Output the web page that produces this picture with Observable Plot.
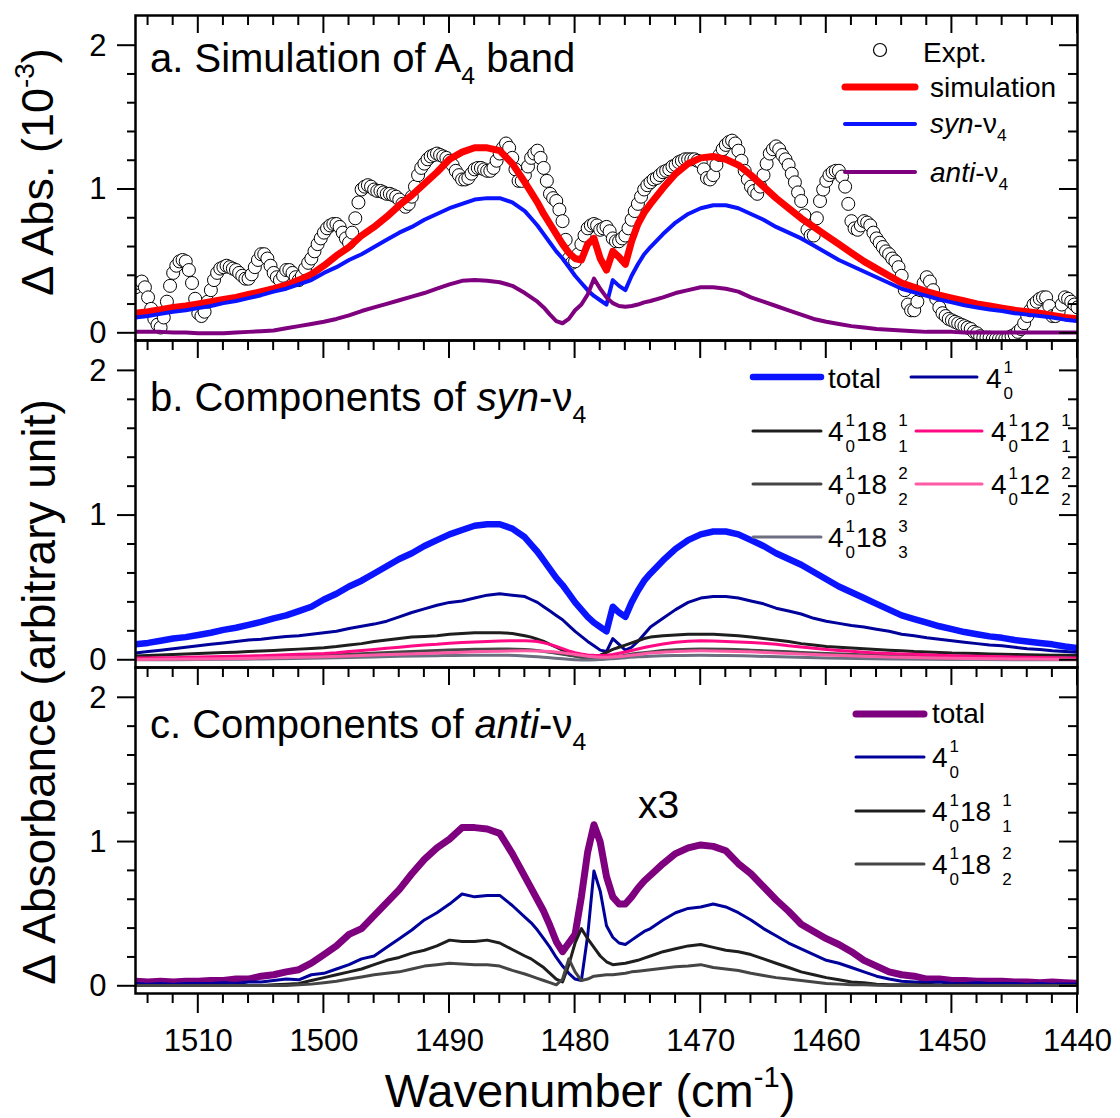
<!DOCTYPE html>
<html><head><meta charset="utf-8">
<script src="https://cdn.jsdelivr.net/npm/d3@7"></script>
<script src="https://cdn.jsdelivr.net/npm/@observablehq/plot@0.6"></script>
<style>
body{margin:0;background:#fff;}
#wrap{position:relative;width:1120px;height:1118px;overflow:hidden;background:#fff;}
.pnl{position:absolute;left:0;}
#ov{position:absolute;left:0;top:0;}
</style></head><body>
<div id="wrap"><div id="pa" class="pnl" style="top:0"></div><div id="pb" class="pnl" style="top:340px"></div><div id="pc" class="pnl" style="top:667px"></div><svg id="ov" width="1120" height="1118"></svg></div>
<script>
// ---------- data ----------
const exptWn = [
1515,1514.75,1514.5,1514.25,1514,1513.75,1513.5,1513.25,1513,1512.75,1512.5,1512.25,1512,1511.75,1511.5,1511.25,1511,1510.75,1510.5,1510.25,
1510,1509.75,1509.5,1509.25,1509,1508.75,1508.5,1508.25,1508,1507.75,1507.5,1507.25,1507,1506.75,1506.5,1506.25,1506,1505.75,1505.5,1505.25,
1505,1504.75,1504.5,1504.25,1504,1503.75,1503.5,1503.25,1503,1502.75,1502.5,1502.25,1502,1501.75,1501.5,1501.25,1501,1500.75,1500.5,1500.25,
1500,1499.75,1499.5,1499.25,1499,1498.75,1498.5,1498.25,1498,1497.75,1497.5,1497.25,1497,1496.75,1496.5,1496.25,1496,1495.75,1495.5,1495.25,
1495,1494.75,1494.5,1494.25,1494,1493.75,1493.5,1493.25,1493,1492.75,1492.5,1492.25,1492,1491.75,1491.5,1491.25,1491,1490.75,1490.5,1490.25,
1490,1489.75,1489.5,1489.25,1489,1488.75,1488.5,1488.25,1488,1487.75,1487.5,1487.25,1487,1486.75,1486.5,1486.25,1486,1485.75,1485.5,1485.25,
1485,1484.75,1484.5,1484.25,1484,1483.75,1483.5,1483.25,1483,1482.75,1482.5,1482.25,1482,1481.75,1481.5,1481.25,1481,1480.75,1480.5,1480.25,
1480,1479.75,1479.5,1479.25,1479,1478.75,1478.5,1478.25,1478,1477.75,1477.5,1477.25,1477,1476.75,1476.5,1476.25,1476,1475.75,1475.5,1475.25,
1475,1474.75,1474.5,1474.25,1474,1473.75,1473.5,1473.25,1473,1472.75,1472.5,1472.25,1472,1471.75,1471.5,1471.25,1471,1470.75,1470.5,1470.25,
1470,1469.75,1469.5,1469.25,1469,1468.75,1468.5,1468.25,1468,1467.75,1467.5,1467.25,1467,1466.75,1466.5,1466.25,1466,1465.75,1465.5,1465.25,
1465,1464.75,1464.5,1464.25,1464,1463.75,1463.5,1463.25,1463,1462.75,1462.5,1462.25,1462,1461.75,1461.5,1461.25,1461,1460.75,1460.5,1460.25,
1460,1459.75,1459.5,1459.25,1459,1458.75,1458.5,1458.25,1458,1457.75,1457.5,1457.25,1457,1456.75,1456.5,1456.25,1456,1455.75,1455.5,1455.25,
1455,1454.75,1454.5,1454.25,1454,1453.75,1453.5,1453.25,1453,1452.75,1452.5,1452.25,1452,1451.75,1451.5,1451.25,1451,1450.75,1450.5,1450.25,
1450,1449.75,1449.5,1449.25,1449,1448.75,1448.5,1448.25,1448,1447.75,1447.5,1447.25,1447,1446.75,1446.5,1446.25,1446,1445.75,1445.5,1445.25,
1445,1444.75,1444.5,1444.25,1444,1443.75,1443.5,1443.25,1443,1442.75,1442.5,1442.25,1442,1441.75,1441.5,1441.25,1441,1440.75,1440.5,1440.25,
1440];
const exptVals = [
0.32,0.35,0.36,0.32,0.25,0.17,0.10,0.06,0.04,0.11,0.22,0.33,0.42,0.47,0.50,0.51,0.50,0.44,0.35,0.24,
0.14,0.12,0.15,0.22,0.30,0.37,0.42,0.45,0.46,0.47,0.46,0.45,0.44,0.42,0.40,0.38,0.38,0.41,0.46,0.51,
0.55,0.55,0.52,0.47,0.42,0.39,0.37,0.40,0.44,0.44,0.42,0.39,0.37,0.40,0.45,0.49,0.52,0.57,0.62,0.66,
0.70,0.73,0.75,0.76,0.76,0.74,0.70,0.66,0.63,0.70,0.80,0.91,1.00,1.02,1.03,1.02,1.00,0.99,0.99,0.98,
0.97,0.97,0.96,0.95,0.93,0.90,0.88,0.90,0.95,1.02,1.10,1.15,1.18,1.21,1.23,1.24,1.25,1.24,1.23,1.22,
1.20,1.17,1.13,1.10,1.07,1.07,1.08,1.11,1.14,1.15,1.15,1.14,1.13,1.13,1.15,1.20,1.25,1.29,1.32,1.29,
1.22,1.14,1.06,1.06,1.10,1.16,1.22,1.25,1.27,1.22,1.15,1.06,0.97,0.94,0.92,0.86,0.78,0.65,0.52,0.49,
0.50,0.55,0.62,0.68,0.73,0.75,0.76,0.75,0.72,0.73,0.74,0.71,0.66,0.64,0.64,0.66,0.68,0.73,0.79,0.85,
0.90,0.95,1.00,1.03,1.05,1.07,1.08,1.10,1.12,1.13,1.14,1.16,1.17,1.19,1.20,1.21,1.21,1.21,1.21,1.20,
1.19,1.14,1.08,1.07,1.10,1.17,1.24,1.28,1.31,1.33,1.34,1.32,1.27,1.20,1.13,1.07,1.02,0.99,0.97,1.02,
1.10,1.18,1.25,1.28,1.30,1.28,1.24,1.21,1.17,1.11,1.05,0.98,0.92,0.82,0.72,0.68,0.68,0.80,0.92,1.00,
1.06,1.10,1.12,1.13,1.13,1.09,1.02,0.90,0.78,0.73,0.72,0.75,0.78,0.77,0.75,0.70,0.66,0.63,0.60,0.57,
0.55,0.52,0.50,0.46,0.40,0.30,0.20,0.16,0.16,0.22,0.30,0.35,0.39,0.36,0.30,0.24,0.18,0.14,0.12,0.10,
0.09,0.08,0.07,0.06,0.05,0.04,0.03,0.01,0.00,-0.02,-0.03,-0.03,-0.03,-0.04,-0.04,-0.04,-0.04,-0.04,-0.03,-0.02,
-0.01,0.01,0.03,0.07,0.12,0.16,0.20,0.22,0.24,0.25,0.25,0.19,0.12,0.12,0.15,0.20,0.25,0.24,0.22,0.20,
0.18];

const wn = [1515,1514,1513,1512,1511,1510,1509,1508,1507,1506,
1505,1504,1503,1502,1501,1500,1499,1498,1497,1496,
1495,1494,1493,1492,1491,1490,1489,1488,1487,1486,
1485,1484,1483.5,1483,1482.5,1482,1481.5,1481,1480.5,1480,
1479.5,1479,1478.5,1478,1477.5,1477,1476.5,1476,1475.5,1475,
1474.5,1474,1473,1472,1471,1470,1469,1468,1467,1466,
1465,1464,1463,1462,1461,1460,1459,1458,1457,1456,
1455,1454,1453,1452,1451,1450,1449,1448,1447,1446,
1445,1444,1443,1442,1441,1440];

const simulation = [0.14,0.15,0.165,0.18,0.19,0.205,0.22,0.235,0.25,0.27,
0.29,0.31,0.335,0.37,0.41,0.47,0.54,0.60,0.68,0.74,
0.81,0.89,0.96,1.04,1.12,1.21,1.26,1.29,1.29,1.27,
1.18,1.05,0.98,0.91,0.83,0.76,0.69,0.62,0.56,0.52,
0.51,0.62,0.66,0.52,0.44,0.57,0.53,0.48,0.64,0.76,
0.84,0.90,1.01,1.11,1.18,1.22,1.23,1.21,1.17,1.10,
1.02,0.94,0.87,0.80,0.74,0.68,0.62,0.56,0.50,0.45,
0.40,0.35,0.32,0.29,0.265,0.245,0.225,0.205,0.19,0.175,
0.16,0.15,0.14,0.125,0.11,0.10];

const synTotal = [0.11,0.12,0.135,0.15,0.16,0.175,0.19,0.21,0.225,0.245,
0.265,0.29,0.31,0.34,0.37,0.42,0.46,0.51,0.55,0.60,
0.65,0.70,0.74,0.79,0.83,0.87,0.90,0.93,0.94,0.94,
0.91,0.85,0.80,0.75,0.69,0.63,0.57,0.52,0.46,0.40,
0.35,0.30,0.26,0.23,0.20,0.37,0.33,0.30,0.40,0.48,
0.55,0.60,0.69,0.77,0.83,0.87,0.89,0.89,0.87,0.83,
0.79,0.74,0.70,0.66,0.61,0.56,0.51,0.47,0.43,0.39,
0.35,0.31,0.285,0.26,0.235,0.215,0.195,0.18,0.165,0.155,
0.14,0.13,0.12,0.11,0.095,0.085];

const antiA = [0.01,0.01,0.01,0.005,0.005,0.0,0.0,0.0,0.005,0.01,
0.015,0.02,0.035,0.05,0.065,0.08,0.10,0.125,0.155,0.18,
0.205,0.23,0.255,0.28,0.31,0.34,0.365,0.37,0.365,0.355,
0.33,0.28,0.25,0.22,0.18,0.13,0.085,0.07,0.10,0.16,
0.20,0.27,0.38,0.31,0.25,0.21,0.19,0.185,0.19,0.20,
0.215,0.225,0.25,0.28,0.30,0.32,0.32,0.31,0.29,0.25,
0.22,0.19,0.16,0.13,0.10,0.08,0.065,0.05,0.04,0.03,
0.025,0.02,0.015,0.01,0.01,0.01,0.005,0.005,0.005,0.005,
0.005,0.005,0.005,0.005,0.005,0.005];

const syn40 = [0.05,0.06,0.07,0.08,0.09,0.10,0.11,0.12,0.13,0.14,
0.145,0.155,0.165,0.17,0.18,0.19,0.20,0.22,0.235,0.25,
0.27,0.30,0.33,0.355,0.38,0.40,0.41,0.43,0.45,0.46,
0.45,0.44,0.42,0.40,0.37,0.34,0.31,0.28,0.24,0.20,
0.165,0.13,0.10,0.07,0.06,0.15,0.11,0.07,0.09,0.13,
0.18,0.23,0.29,0.35,0.40,0.43,0.44,0.44,0.43,0.41,
0.39,0.36,0.34,0.32,0.29,0.27,0.255,0.24,0.23,0.215,
0.20,0.18,0.17,0.155,0.145,0.135,0.125,0.115,0.105,0.10,
0.09,0.08,0.075,0.065,0.06,0.055];

const syn18a = [0.03,0.033,0.036,0.04,0.043,0.046,0.05,0.053,0.056,0.06,
0.064,0.068,0.072,0.077,0.082,0.087,0.095,0.105,0.115,0.13,
0.14,0.15,0.16,0.165,0.17,0.18,0.185,0.19,0.19,0.19,
0.185,0.17,0.16,0.145,0.13,0.11,0.09,0.07,0.05,0.035,
0.025,0.02,0.02,0.035,0.055,0.075,0.09,0.105,0.12,0.135,
0.15,0.16,0.17,0.175,0.18,0.18,0.18,0.175,0.17,0.16,
0.15,0.14,0.13,0.115,0.105,0.095,0.09,0.085,0.08,0.075,
0.07,0.065,0.06,0.057,0.054,0.05,0.048,0.046,0.044,0.042,
0.04,0.038,0.036,0.035,0.034,0.033];

const syn12a = [0.015,0.016,0.017,0.018,0.02,0.022,0.024,0.026,0.028,0.03,
0.032,0.035,0.038,0.041,0.044,0.047,0.052,0.06,0.067,0.075,
0.083,0.09,0.098,0.105,0.11,0.118,0.122,0.127,0.13,0.133,
0.135,0.135,0.133,0.13,0.12,0.11,0.095,0.08,0.065,0.052,
0.043,0.037,0.034,0.033,0.035,0.04,0.048,0.057,0.067,0.078,
0.088,0.097,0.112,0.125,0.132,0.135,0.133,0.13,0.126,0.122,
0.117,0.11,0.10,0.092,0.083,0.075,0.068,0.062,0.056,0.051,
0.047,0.044,0.041,0.038,0.035,0.032,0.03,0.028,0.026,0.024,
0.022,0.02,0.019,0.018,0.016,0.015];

const wnCoarse = [1515,1510,1505,1500,1497,1494,1491,1488,1486,1484,1482,1481,1480,1479,1478,1477,1476,1475,1474,1472,1470,1468,1466,1463,1460,1455,1450,1445,1440];
const syn18b = [0.01,0.015,0.022,0.035,0.045,0.057,0.068,0.076,0.078,0.074,0.055,0.042,0.028,0.012,0.008,0.02,0.035,0.048,0.058,0.072,0.078,0.076,0.07,0.058,0.046,0.032,0.023,0.017,0.012];
const syn12b = [0.005,0.009,0.015,0.025,0.033,0.042,0.05,0.058,0.063,0.065,0.06,0.052,0.04,0.028,0.02,0.022,0.03,0.04,0.05,0.06,0.065,0.063,0.058,0.047,0.036,0.022,0.014,0.009,0.006];
const syn18c = [0.003,0.005,0.009,0.015,0.021,0.027,0.032,0.035,0.035,0.03,0.017,0.01,0.004,0.002,0.005,0.011,0.018,0.024,0.028,0.033,0.035,0.033,0.029,0.022,0.016,0.009,0.006,0.004,0.003];

const antiTotal = [0.035,0.03,0.035,0.03,0.035,0.035,0.04,0.04,0.05,0.05,
0.07,0.08,0.10,0.115,0.16,0.22,0.28,0.36,0.40,0.49,
0.58,0.67,0.78,0.88,0.96,1.02,1.10,1.10,1.09,1.06,
0.92,0.76,0.68,0.60,0.52,0.42,0.31,0.24,0.30,0.36,
0.62,0.93,1.12,1.00,0.76,0.62,0.57,0.57,0.62,0.68,
0.73,0.77,0.85,0.92,0.96,0.98,0.97,0.94,0.85,0.78,
0.69,0.60,0.52,0.43,0.38,0.33,0.29,0.24,0.18,0.14,
0.10,0.08,0.07,0.05,0.05,0.04,0.04,0.035,0.035,0.035,
0.03,0.03,0.025,0.03,0.025,0.02];

const anti40 = [0.02,0.015,0.02,0.015,0.02,0.02,0.02,0.025,0.02,0.03,
0.03,0.04,0.05,0.045,0.08,0.09,0.12,0.15,0.19,0.21,
0.27,0.33,0.39,0.46,0.51,0.57,0.64,0.62,0.63,0.63,
0.56,0.48,0.44,0.39,0.33,0.27,0.20,0.14,0.09,0.05,
0.04,0.35,0.80,0.66,0.42,0.34,0.30,0.29,0.32,0.35,
0.38,0.40,0.46,0.51,0.54,0.55,0.57,0.55,0.51,0.46,
0.40,0.35,0.30,0.26,0.22,0.18,0.16,0.13,0.10,0.07,
0.05,0.035,0.03,0.025,0.03,0.02,0.02,0.025,0.02,0.02,
0.02,0.015,0.02,0.015,0.015,0.015];

const anti18a = [0.005,0.005,0.005,0.005,0.005,0.005,0.005,0.005,0.005,0.005,
0.005,0.01,0.015,0.02,0.04,0.06,0.08,0.10,0.12,0.15,
0.18,0.20,0.23,0.25,0.28,0.32,0.31,0.31,0.32,0.30,
0.255,0.21,0.19,0.16,0.13,0.09,0.05,0.03,0.15,0.30,
0.40,0.33,0.27,0.21,0.17,0.15,0.155,0.16,0.17,0.18,
0.195,0.21,0.24,0.26,0.28,0.29,0.27,0.25,0.24,0.22,
0.19,0.16,0.13,0.10,0.08,0.06,0.045,0.03,0.025,0.015,
0.01,0.01,0.01,0.01,0.008,0.008,0.008,0.006,0.006,0.006,
0.005,0.005,0.005,0.005,0.005,0.005];

const anti18b = [0.005,0.005,0.005,0.005,0.005,0.005,0.005,0.005,0.005,0.005,
0.005,0.005,0.005,0.01,0.015,0.025,0.035,0.05,0.065,0.08,
0.09,0.10,0.12,0.14,0.15,0.16,0.155,0.15,0.15,0.14,
0.11,0.085,0.07,0.055,0.04,0.025,0.01,0.05,0.19,0.10,
0.04,0.05,0.07,0.075,0.08,0.08,0.085,0.09,0.10,0.105,
0.11,0.115,0.125,0.135,0.14,0.15,0.13,0.12,0.11,0.09,
0.075,0.06,0.05,0.04,0.03,0.02,0.015,0.01,0.01,0.008,
0.006,0.006,0.006,0.006,0.006,0.006,0.006,0.006,0.006,0.006,
0.005,0.005,0.005,0.005,0.005,0.005];

const xMajor = [1510,1500,1490,1480,1470,1460,1450,1440];
const xMinor = [1514,1512,1508,1506,1504,1502,1498,1496,1494,1492,1488,1486,1484,1482,1478,1476,1474,1472,1468,1466,1464,1462,1458,1456,1454,1452,1448,1446,1444,1442];
const yMajor = [0,1,2];
const yMinor = [0.2,0.4,0.6,0.8,1.2,1.4,1.6,1.8];

// ---------- helpers ----------
const mk = (w, vals) => w.map((x, i) => ({w: x, v: vals[i]}));
const ML = 135, MR = 43, W = 1120 - ML - MR;
const X0 = 1515, X1 = 1440, Y0 = -0.05, Y1 = 2.21;
const FF = "'Liberation Sans', Arial, sans-serif";

function panel({top, h, bottom, layers, xLabels}) {
  const marks = [
    ...layers,
    Plot.frame({stroke: "black", strokeWidth: 2.5}),
    Plot.axisY(yMajor, {tickSize: 0, tickPadding: 29, label: null, tickFormat: d => String(d)})
  ];
  if (xLabels) {
    marks.push(Plot.axisX(xMajor, {tickSize: 0, tickPadding: 35, label: null, tickFormat: d => String(d)}));
  }
  return Plot.plot({
    width: 1120, height: top + h + bottom,
    marginLeft: ML, marginRight: MR, marginTop: top, marginBottom: bottom,
    x: {domain: [X0, X1], axis: xLabels ? undefined : null},
    y: {domain: [Y0, Y1]},
    style: {background: "transparent", overflow: "visible", fontFamily: FF, fontSize: "31px", color: "black"},
    marks
  });
}

const line = (w, vals, stroke, sw, curve) => Plot.line(mk(w, vals), {x: "w", y: "v", stroke, strokeWidth: sw, clip: true, curve: curve || "linear"});

const C = {red: "#ff0000", blue: "#0a14ff", purple: "#7f007f", navy: "#00009a", black: "#1e1e1e", dgray: "#454545", lgray: "#6c6f80", pink: "#ff0a84", lpink: "#ff5aa5"};

document.getElementById("pa").append(panel({top: 15, h: 325, bottom: 0, layers: [
  Plot.dot(mk(exptWn, exptVals), {x: "w", y: "v", r: 6.5, fill: "white", stroke: "black", strokeWidth: 1, clip: true}),
  line(wn, simulation, C.red, 7),
  line(wn, synTotal, C.blue, 4),
  line(wn, antiA, C.purple, 4)
]}));

document.getElementById("pb").append(panel({top: 0, h: 327, bottom: 0, layers: [
  line(wn, synTotal, C.blue, 6.5),
  line(wn, syn40, C.navy, 3),
  line(wn, syn18a, C.black, 3),
  line(wnCoarse, syn18b, C.dgray, 3, "monotone-x"),
  line(wnCoarse, syn18c, C.lgray, 3, "monotone-x"),
  line(wn, syn12a, C.pink, 3),
  line(wnCoarse, syn12b, C.lpink, 3, "monotone-x")
]}));

document.getElementById("pc").append(panel({top: 0, h: 326, bottom: 125, xLabels: true, layers: [
  line(wn, antiTotal, C.purple, 7),
  line(wn, anti40, C.navy, 3),
  line(wn, anti18a, C.black, 3),
  line(wn, anti18b, C.dgray, 3)
]}));

// ---------- overlay: ticks, texts, legends ----------
const ovEl = document.getElementById("ov");
const NS = "http://www.w3.org/2000/svg";
function tl(x1, y1, x2, y2) {
  const l = document.createElementNS(NS, "line");
  l.setAttribute("x1", x1.toFixed(2)); l.setAttribute("y1", y1.toFixed(2));
  l.setAttribute("x2", x2.toFixed(2)); l.setAttribute("y2", y2.toFixed(2));
  l.setAttribute("stroke", "#000"); l.setAttribute("stroke-width", "2");
  ovEl.appendChild(l);
}
// tick decorations placed with the same linear mapping as the panels' frames
function ticks(frameTop, h, outwardBottom) {
  const px = v => ML + (X0 - v) / (X0 - X1) * W;
  const py = v => frameTop + (Y1 - v) / (Y1 - Y0) * h;
  const yb = frameTop + h, xl = ML, xr = ML + W;
  xMajor.forEach(v => { const x = px(v); tl(x, frameTop, x, frameTop + 18); if (outwardBottom) tl(x, yb, x, yb + 20); });
  xMinor.forEach(v => { const x = px(v); tl(x, frameTop, x, frameTop + 10); if (outwardBottom) tl(x, yb, x, yb + 10); });
  yMajor.forEach(v => { const y = py(v); tl(xl - 18, y, xl, y); tl(xr - 18, y, xr, y); });
  yMinor.forEach(v => { const y = py(v); tl(xl - 8, y, xl, y); tl(xr - 9, y, xr, y); });
}
ticks(15, 325, false);
ticks(340, 327, false);
ticks(667, 326, true);

const ov = d3.select("#ov").attr("font-family", FF).attr("fill", "black");

function rich(x, y, size, parts, attrs = {}) {
  const t = ov.append("text").attr("x", x).attr("y", y).attr("font-size", size);
  for (const [k, v] of Object.entries(attrs)) t.attr(k, v);
  let off = 0;
  for (const p of parts) {
    const s = typeof p === "string" ? {t: p} : p;
    const target = s.sub !== undefined ? size * 0.3 : s.sup !== undefined ? -size * 0.42 : 0;
    const ts = t.append("tspan").attr("dy", target - off).text(s.t ?? s.sub ?? s.sup);
    if (s.sub !== undefined || s.sup !== undefined) ts.attr("font-size", size * 0.62);
    if (s.i) ts.attr("font-style", "italic");
    off = target;
  }
  return t;
}

function spec(x, y, parts, size = 28, small = 17) {
  let cx = x;
  for (const p of parts) {
    if (typeof p === "string") {
      const t = ov.append("text").attr("x", cx).attr("y", y).attr("font-size", size).text(p);
      cx += t.node().getComputedTextLength();
    } else if (typeof p === "number") {
      cx += p;
    } else {
      const a = ov.append("text").attr("x", cx + 2).attr("y", y - 15).attr("font-size", small).text(p[0]);
      const b = ov.append("text").attr("x", cx + 2).attr("y", y + 11).attr("font-size", small).text(p[1]);
      cx += 3 + Math.max(a.node().getComputedTextLength(), b.node().getComputedTextLength());
    }
  }
}

function seg(x1, x2, y, stroke, sw) {
  ov.append("line").attr("x1", x1).attr("x2", x2).attr("y1", y).attr("y2", y)
    .attr("stroke", stroke).attr("stroke-width", sw).attr("stroke-linecap", "round");
}

// axis titles
rich(0, 0, 45, ["Δ Abs. (10", {sup: "-3"}, ")"], {"text-anchor": "middle", transform: "translate(53,172) rotate(-90)"});
rich(0, 0, 46, ["Δ Absorbance (arbitrary unit)"], {"text-anchor": "middle", transform: "translate(55,692) rotate(-90)"});
rich(590, 1107, 47, ["Wavenumber (cm", {sup: "-1"}, ")"], {"text-anchor": "middle"});

// panel titles
rich(150, 72, 40, ["a. Simulation of A", {sub: "4"}, " band"]);
rich(150, 411, 40, ["b. Components of ", {t: "syn", i: true}, "-ν", {sub: "4"}]);
rich(150, 738, 40, ["c. Components of ", {t: "anti", i: true}, "-ν", {sub: "4"}]);
rich(638, 818, 39, ["x3"]);

// legend a
ov.append("circle").attr("cx", 880).attr("cy", 50).attr("r", 6.5).attr("fill", "white").attr("stroke", "black").attr("stroke-width", 1.2);
rich(923, 62, 28, ["Expt."]);
seg(845, 915, 87, C.red, 7);
rich(930, 97, 28, ["simulation"]);
seg(845, 915, 124, C.blue, 4);
rich(930, 133, 28, [{t: "syn", i: true}, "-ν", {sub: "4"}]);
seg(845, 915, 172, C.purple, 4);
rich(930, 182, 28, [{t: "anti", i: true}, "-ν", {sub: "4"}]);

// legend b
seg(753, 821, 377, C.blue, 6.5);
rich(828, 388, 28, ["total"]);
seg(911, 977, 377, C.navy, 3);
spec(986, 388, ["4", ["1", "0"]]);
seg(753, 821, 431, C.black, 3);
spec(828, 441, ["4", ["1", "0"], "18", 9, ["1", "1"]]);
seg(916, 982, 431, C.pink, 3);
spec(991, 441, ["4", ["1", "0"], "12", 9, ["1", "1"]]);
seg(753, 821, 484, C.dgray, 3);
spec(828, 494, ["4", ["1", "0"], "18", 9, ["2", "2"]]);
seg(916, 982, 484, C.lpink, 3);
spec(991, 494, ["4", ["1", "0"], "12", 9, ["2", "2"]]);
seg(753, 821, 537, C.lgray, 3);
spec(828, 547, ["4", ["1", "0"], "18", 9, ["3", "3"]]);

// legend c
seg(856, 924, 714, C.purple, 7);
rich(932, 723, 28, ["total"]);
seg(856, 924, 757, C.navy, 3);
spec(932, 767, ["4", ["1", "0"]]);
seg(856, 924, 811, C.black, 3);
spec(932, 821, ["4", ["1", "0"], "18", 9, ["1", "1"]]);
seg(856, 924, 864, C.dgray, 3);
spec(932, 874, ["4", ["1", "0"], "18", 9, ["2", "2"]]);
</script>
</body></html>
